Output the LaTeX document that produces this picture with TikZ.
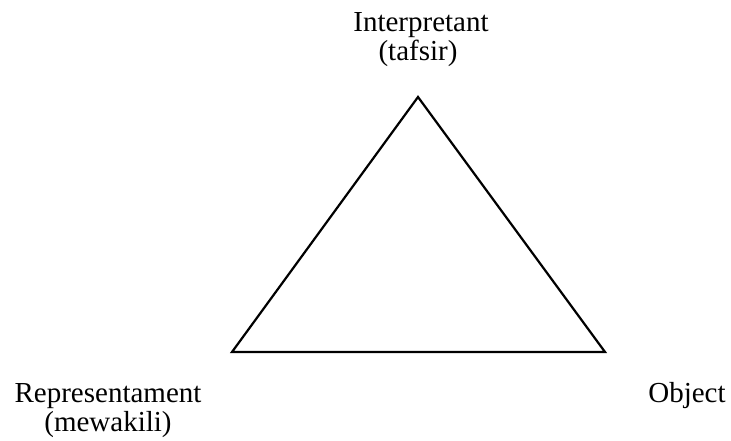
\documentclass[tikz,border=0pt]{standalone}
\usepackage{fontspec}
\setmainfont{Liberation Serif}
\begin{document}
\begin{tikzpicture}[x=1pt,y=-1pt,
  lbl/.style={inner sep=0pt,anchor=base,font=\fontsize{29}{32}\selectfont},
  edge/.style={line width=2.2pt,line join=miter}]
\useasboundingbox (0,0) rectangle (731,441);
\coordinate (top) at (418,97);
\coordinate (bl) at (232,352);
\coordinate (br) at (605,352);
\draw[edge] (top) -- (bl) -- (br) -- cycle;
\node[lbl] (interp) at (421,32) {Interpretant};
\node[lbl] (tafsir) at (418,61) {(tafsir)};
\node[lbl] (repr) at (108,402) {Representament};
\node[lbl] (mewakili) at (108,431) {(mewakili)};
\node[lbl] (object) at (687,402) {Object};
\end{tikzpicture}
\end{document}
